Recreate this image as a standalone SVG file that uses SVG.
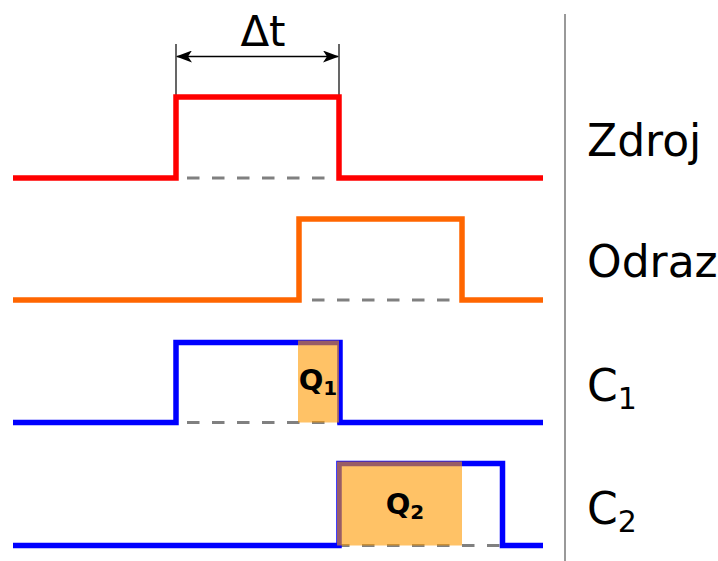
<svg xmlns="http://www.w3.org/2000/svg" width="718" height="561" viewBox="0 0 718 561">
<defs>
<style>
.sig{fill:none;stroke-width:5.5;stroke-linejoin:miter;stroke-linecap:butt}
.dash{fill:none;stroke:#808080;stroke-width:3;stroke-dasharray:12.5 12.5}
.q{fill:#ff9900;fill-opacity:0.6}
.lbl{font-family:"DejaVu Sans",sans-serif;font-size:44px;fill:#000}
.ql{font-family:"DejaVu Sans",sans-serif;font-size:29px;font-weight:bold;fill:#000;text-anchor:middle}
</style>
<marker id="ah" viewBox="0 0 16 12" refX="15" refY="6" markerWidth="16" markerHeight="12" markerUnits="userSpaceOnUse" orient="auto-start-reverse">
<path d="M0,0 L16,6 L0,12 L4,6 Z" fill="#000"/>
</marker>
</defs>
<g id="dimension">
<line x1="176" y1="44" x2="176" y2="97" stroke="#000" stroke-width="1.2"/>
<line x1="339" y1="44" x2="339" y2="97" stroke="#000" stroke-width="1.2"/>
<line x1="177" y1="56.5" x2="338" y2="56.5" stroke="#000" stroke-width="1.5" marker-start="url(#ah)" marker-end="url(#ah)"/>
<text x="263" y="46" text-anchor="middle" style="font-family:'DejaVu Sans',sans-serif;font-size:42px">Δt</text>
</g>
<g id="divider">
<line x1="565" y1="14" x2="565" y2="561" stroke="#999" stroke-width="2"/>
</g>
<g id="zdroj">
<line class="dash" x1="187" y1="178" x2="339" y2="178"/>
<path class="sig" stroke="#ff0000" d="M13,178 H176 V97 H339 V178 H543"/>
<text class="lbl" x="587" y="156">Zdroj</text>
</g>
<g id="odraz">
<line class="dash" x1="312" y1="300" x2="462" y2="300"/>
<path class="sig" stroke="#ff6600" d="M13,300 H299 V219 H462 V300 H543"/>
<text class="lbl" x="587" y="277">Odraz</text>
</g>
<g id="c1">
<line class="dash" x1="187" y1="422.5" x2="339" y2="422.5"/>
<path class="sig" stroke="#0000ff" d="M13,422.5 H176 V342.5 H340 V422.5 H543"/>
<rect class="q" x="298" y="340.5" width="41" height="82"/>
<text class="ql" x="318" y="390">Q<tspan font-size="20" dy="5">1</tspan></text>
<text class="lbl" x="587" y="401">C<tspan font-size="30" dy="8">1</tspan></text>
</g>
<g id="c2">
<line class="dash" x1="337" y1="545.5" x2="502" y2="545.5"/>
<path class="sig" stroke="#0000ff" d="M13,545.5 H339 V463.5 H502.5 V545.5 H543"/>
<rect class="q" x="337" y="461.5" width="125" height="84"/>
<text class="ql" x="405" y="514">Q<tspan font-size="20" dy="5">2</tspan></text>
<text class="lbl" x="587" y="524">C<tspan font-size="30" dy="8">2</tspan></text>
</g>
</svg>
